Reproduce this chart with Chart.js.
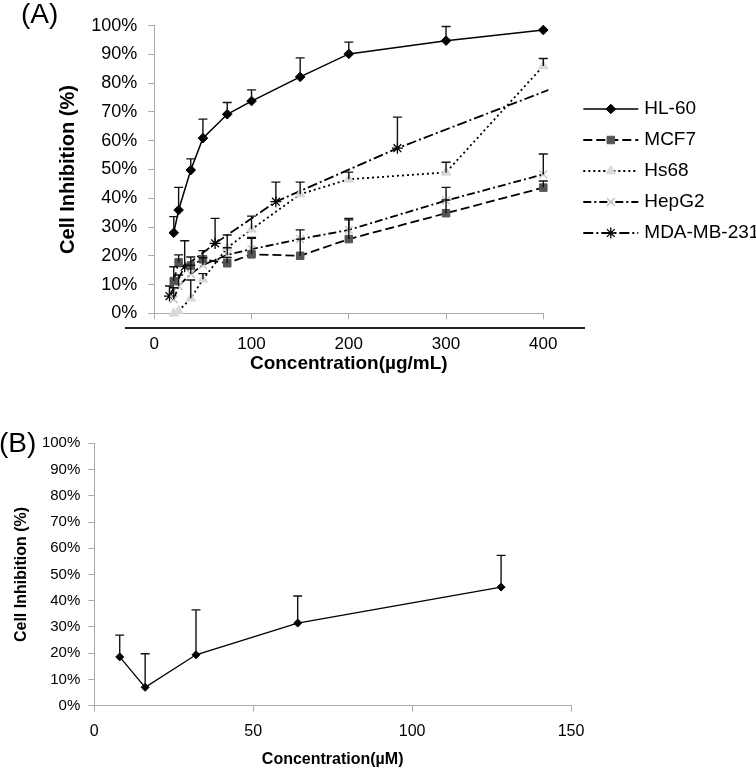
<!DOCTYPE html>
<html>
<head>
<meta charset="utf-8">
<script src="https://cdn.jsdelivr.net/npm/chart.js@4.4.0/dist/chart.umd.min.js"></script>
<style>
  html, body { margin: 0; padding: 0; background: #fff; }
  body { width: 756px; height: 769px; position: relative; overflow: hidden; font-family: "Liberation Sans", Arial, sans-serif; }
  #wrapA { position: absolute; left: 0; top: 0; width: 756px; height: 390px; }
  #wrapB { position: absolute; left: 0; top: 384px; width: 756px; height: 385px; }
  .panel { position: absolute; font-size: 28px; line-height: 1; color: #000; }
  #labelA { left: 21px; top: 0px; }
  #labelB { left: -1px; top: 429px; }
  #baseline { position: absolute; left: 125px; top: 327px; width: 460px; height: 2px; background: #222; }
</style>
</head>
<body>
<div id="wrapA"><canvas id="chartA" width="756" height="390"></canvas></div>
<div id="baseline"></div>
<div id="wrapB"><canvas id="chartB" width="756" height="385"></canvas></div>
<div class="panel" id="labelA">(A)</div>
<div class="panel" id="labelB">(B)</div>
<script>
/*
* Панель (A): ингибирование клеток, концентрация в мкг/мл
*/
var concA   = [20, 25, 37.5, 50, 75, 100, 150, 200, 300, 400];
var concMDA = [15.625, 31.25, 62.5, 125, 250, 500];

var hl60     = [28.0, 35.9, 49.8, 60.9, 69.2, 73.8, 82.2, 90.2, 94.8, 98.5];
var hl60Err  = [5.6, 7.9, 3.9, 6.6, 4.1, 3.9, 6.6, 4.1, 4.9, 0];
var mcf7     = [11.2, 17.7, 16.6, 18.8, 17.4, 20.5, 20.0, 25.8, 34.8, 43.7];
var mcf7Err  = [5.0, 2.6, 3.0, 3.0, 2.0, 5.6, 5.8, 7.2, 4.6, 2.3];
var hs68     = [0, 0.8, 5.2, 11.8, 22.8, 29.2, 41.4, 46.6, 49.0, 86.0];
var hs68Err  = [0, 0, 6.4, 2.0, 4.4, 4.6, 4.2, 2.5, 3.5, 2.6];
var hepg2    = [4.9, 9.5, 13.7, 16.8, 20.3, 22.3, 25.8, 29.0, 39.2, 48.3];
var hepg2Err = [4.0, 3.8, 3.0, 2.5, 2.5, 4.1, 3.2, 3.5, 4.6, 7.1];
var mda      = [6.0, 16.2, 24.3, 38.8, 57.4, 90.0];
var mdaErr   = [3.5, 9.0, 8.7, 6.8, 10.8, 0];

/*
* Панель (B): концентрация в мкМ
*/
var concB     = [8, 16, 32, 64, 128];
var inhibB    = [18.6, 7.0, 19.4, 31.5, 45.2];
var inhibBErr = [8.3, 12.8, 17.1, 10.3, 12.1];

// подписи осей
var pctTicks = [0, 10, 20, 30, 40, 50, 60, 70, 80, 90, 100];
var xTicksA  = [0, 100, 200, 300, 400];
var xTicksB  = [0, 50, 100, 150];

var FONT = '"Liberation Sans", Arial, sans-serif';
Chart.defaults.font.family = FONT;
Chart.defaults.color = '#000';

function pts(xs, ys) {
    var arr = [];
    for (var i = 0; i < xs.length; i++) {
        arr.push({x: xs[i], y: ys[i]});
    }
    return arr;
}

function fixedTicks(list) {
    return function(scale) {
        scale.ticks = list.map(function(v) { return {value: v}; });
    };
}

//планки погрешностей (только вверх)
var errorBars = {
    id: 'errorBars',
    afterDatasetsDraw: function(chart) {
        var ctx = chart.ctx;
        var area = chart.chartArea;
        var yScale = chart.scales.y;
        for (var i = 0; i < chart.data.datasets.length; i++) {
            var ds = chart.data.datasets[i];
            if (!ds.errors) continue;
            var meta = chart.getDatasetMeta(i);
            ctx.save();
            ctx.strokeStyle = '#111';
            ctx.lineWidth = 1.4;
            ctx.setLineDash([]);
            for (var j = 0; j < meta.data.length; j++) {
                var e = ds.errors[j];
                var p = meta.data[j];
                if (!e || p.x > area.right + 1) continue;
                var top = yScale.getPixelForValue(ds.data[j].y + e);
                ctx.beginPath();
                ctx.moveTo(p.x, p.y);
                ctx.lineTo(p.x, top);
                ctx.moveTo(p.x - 4.5, top);
                ctx.lineTo(p.x + 4.5, top);
                ctx.stroke();
            }
            ctx.restore();
        }
    }
};

//легенда справа: линия + маркер + подпись
var sideLegend = {
    id: 'sideLegend',
    afterDraw: function(chart) {
        var ctx = chart.ctx;
        var x0 = chart.chartArea.right + 40;
        var x1 = x0 + 55;
        for (var i = 0; i < chart.data.datasets.length; i++) {
            var ds = chart.data.datasets[i];
            var yy = 109 + i * 31;
            ctx.save();
            ctx.strokeStyle = ds.borderColor;
            ctx.lineWidth = ds.borderWidth;
            ctx.setLineDash(ds.borderDash || []);
            ctx.beginPath();
            ctx.moveTo(x0, yy);
            ctx.lineTo(x1, yy);
            ctx.stroke();
            ctx.setLineDash([]);
            ctx.fillStyle = ds.pointBackgroundColor;
            ctx.strokeStyle = ds.pointBorderColor;
            ctx.lineWidth = ds.pointBorderWidth || 1;
            Chart.helpers.drawPoint(ctx, {
                pointStyle: ds.pointStyle,
                radius: ds.pointRadius,
                rotation: 0,
                borderWidth: ds.pointBorderWidth || 1
            }, (x0 + x1) / 2, yy);
            ctx.fillStyle = '#000';
            ctx.font = '19px ' + FONT;
            ctx.textBaseline = 'middle';
            ctx.textAlign = 'left';
            ctx.fillText(ds.label, x1 + 6, yy);
            ctx.restore();
        }
    }
};

function axisX(ticksList, fontSize, pad, title, titleFont, height) {
    return {
        type: 'linear',
        min: ticksList[0],
        max: ticksList[ticksList.length - 1],
        afterBuildTicks: fixedTicks(ticksList),
        afterFit: function(scale) { scale.height = height; },
        grid: { drawOnChartArea: false, drawTicks: true, tickLength: 6, color: '#aaa' },
        border: { display: true, color: '#aaa', width: 1 },
        ticks: { font: { size: fontSize }, padding: pad, maxRotation: 0, autoSkip: false, color: '#000' },
        title: { display: true, text: title, font: titleFont, padding: 0, color: '#000' }
    };
}

function axisY(fontSize, pad, titleFont, width) {
    return {
        min: 0,
        max: 100,
        afterBuildTicks: fixedTicks(pctTicks),
        afterFit: function(scale) { scale.width = width; },
        grid: { drawOnChartArea: false, drawTicks: true, tickLength: 6, color: '#aaa' },
        border: { display: true, color: '#aaa', width: 1 },
        ticks: {
            font: { size: fontSize },
            padding: pad,
            color: '#000',
            callback: function(v) { return v + '%'; }
        },
        title: { display: true, text: 'Cell Inhibition (%)', font: titleFont, padding: 0, color: '#000' }
    };
}

var chartA = new Chart(document.getElementById('chartA'), {
    type: 'line',
    data: {
        datasets: [
            {
                label: 'HL-60', data: pts(concA, hl60), errors: hl60Err,
                borderColor: '#000', borderWidth: 1.5, borderDash: [],
                pointStyle: 'rectRot', pointRadius: 4.8, pointBorderWidth: 1,
                pointBackgroundColor: '#000', pointBorderColor: '#000', clip: false
            },
            {
                label: 'MCF7', data: pts(concA, mcf7), errors: mcf7Err,
                borderColor: '#000', borderWidth: 1.8, borderDash: [9, 4],
                pointStyle: 'rect', pointRadius: 5.3, pointBorderWidth: 1,
                pointBackgroundColor: '#555', pointBorderColor: '#555', clip: false
            },
            {
                label: 'Hs68', data: pts(concA, hs68), errors: hs68Err,
                borderColor: '#000', borderWidth: 1.8, borderDash: [2, 3],
                pointStyle: 'triangle', pointRadius: 5.5, pointBorderWidth: 1,
                pointBackgroundColor: '#d9d9d9', pointBorderColor: '#d9d9d9', clip: false
            },
            {
                label: 'HepG2', data: pts(concA, hepg2), errors: hepg2Err,
                borderColor: '#000', borderWidth: 1.8, borderDash: [8, 3, 2, 3],
                pointStyle: 'crossRot', pointRadius: 5.5, pointBorderWidth: 1.6,
                pointBackgroundColor: '#c8c8c8', pointBorderColor: '#c8c8c8', clip: false
            },
            {
                label: 'MDA-MB-231', data: pts(concMDA, mda), errors: mdaErr,
                borderColor: '#000', borderWidth: 1.8, borderDash: [10, 3, 2, 3],
                pointStyle: 'star', pointRadius: 5.5, pointBorderWidth: 1.3,
                pointBackgroundColor: '#000', pointBorderColor: '#000',
                clip: { left: 8, top: 8, right: 5, bottom: 8 }
            }
        ]
    },
    options: {
        responsive: false,
        animation: false,
        layout: { padding: { left: 56, right: 212.7, top: 25.7, bottom: 14.6 } },
        elements: { line: { tension: 0, fill: false } },
        plugins: { legend: { display: false }, tooltip: { enabled: false } },
        scales: {
            x: axisX(xTicksA, 17, 15, 'Concentration(\u00b5g/mL)', { size: 19, weight: 'bold', lineHeight: 1.2 }, 62.1),
            y: axisY(18, 11, { size: 20, weight: 'bold', lineHeight: 1.2 }, 98.3)
        }
    },
    plugins: [errorBars, sideLegend]
});

var chartB = new Chart(document.getElementById('chartB'), {
    type: 'line',
    data: {
        datasets: [
            {
                label: 'B', data: pts(concB, inhibB), errors: inhibBErr,
                borderColor: '#000', borderWidth: 1.3,
                pointStyle: 'rectRot', pointRadius: 4, pointBorderWidth: 1,
                pointBackgroundColor: '#000', pointBorderColor: '#000', clip: false
            }
        ]
    },
    options: {
        responsive: false,
        animation: false,
        layout: { padding: { left: 12, right: 185, top: 59.3, bottom: 1 } },
        elements: { line: { tension: 0, fill: false } },
        plugins: { legend: { display: false }, tooltip: { enabled: false } },
        scales: {
            x: axisX(xTicksB, 16, 10, 'Concentration(\u00b5M)', { size: 16, weight: 'bold', lineHeight: 1 }, 62.3),
            y: axisY(15, 8, { size: 16, weight: 'bold', lineHeight: 1.2 }, 82.3)
        }
    },
    plugins: [errorBars]
});
</script>
</body>
</html>
